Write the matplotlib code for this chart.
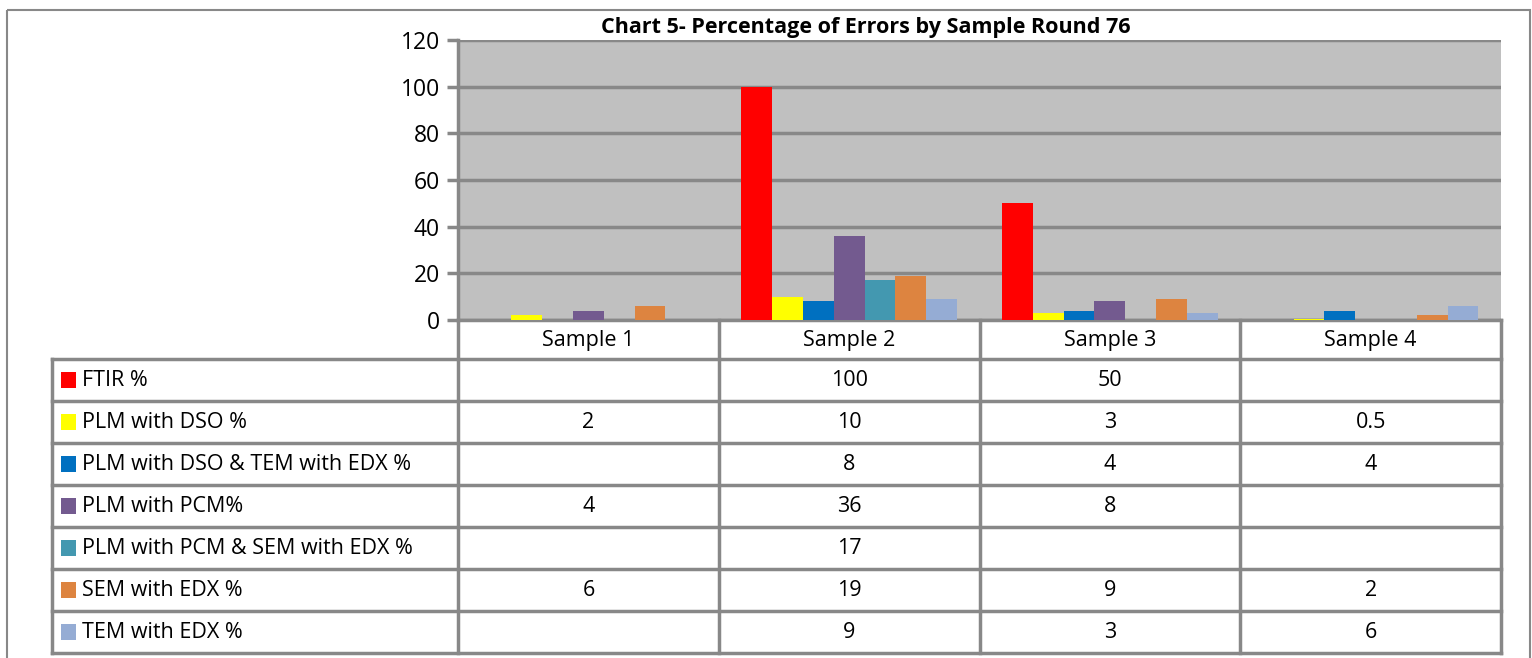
import numpy as np
import matplotlib
matplotlib.use("Agg")
import matplotlib.pyplot as plt
from matplotlib.patches import Rectangle

# data
samples = ["Sample 1", "Sample 2", "Sample 3", "Sample 4"]
series_names = [
    "FTIR %",
    "PLM with DSO %",
    "PLM with DSO & TEM with EDX %",
    "PLM with PCM%",
    "PLM with PCM & SEM with EDX %",
    "SEM with EDX %",
    "TEM with EDX %",
]
ftir = [None, 100, 50, None]
plm_dso = [2, 10, 3, 0.5]
plm_dso_tem = [None, 8, 4, 4]
plm_pcm = [4, 36, 8, None]
plm_pcm_sem = [None, 17, None, None]
sem_edx = [6, 19, 9, 2]
tem_edx = [None, 9, 3, 6]
series_values = [ftir, plm_dso, plm_dso_tem, plm_pcm, plm_pcm_sem, sem_edx, tem_edx]
colors = ["#FF0000", "#FFFF00", "#0070C0", "#735A8F", "#4398B0", "#DD8440", "#95ACD4"]
y_ticks = [0, 20, 40, 60, 80, 100, 120]

plt.rcParams['font.family'] = ['Open Sans', 'DejaVu Sans']
GRID = "#888888"
W, H = 1532, 658
FS = 15.5

fig = plt.figure(figsize=(W / 100, H / 100), dpi=100, facecolor="white")

# plot area in pixel coords
px_l, px_r, px_t, px_b = 458, 1501, 40, 320
ax = fig.add_axes([px_l / W, 1 - px_b / H, (px_r - px_l) / W, (px_b - px_t) / H])
ax.set_facecolor("#C0C0C0")

bar_w = 0.118
n = len(series_values)
x = np.arange(len(samples))
for i, (vals, c) in enumerate(zip(series_values, colors)):
    v = np.array([np.nan if a is None else a for a in vals], dtype=float)
    ax.bar(x + (i - (n - 1) / 2) * bar_w, v, bar_w, color=c, zorder=3)

ax.set_xlim(-0.5, len(samples) - 0.5)
ax.set_ylim(0, 120)
ax.set_yticks(y_ticks)
ax.set_xticks([])
ax.yaxis.grid(True, color=GRID, linewidth=2.5, zorder=1)
ax.set_axisbelow(True)
for s in ["top", "right"]:
    ax.spines[s].set_visible(False)
for s in ["left", "bottom"]:
    ax.spines[s].set_color(GRID)
    ax.spines[s].set_linewidth(2.5)
ax.tick_params(axis="y", length=8, width=2.5, color=GRID, labelsize=16.5, pad=5)

# overlay for table, title and border
ov = fig.add_axes([0, 0, 1, 1], facecolor="none")
ov.set_xlim(0, W)
ov.set_ylim(H, 0)
ov.axis("off")

ov.text(866, 27, "Chart 5- Percentage of Errors by Sample Round 76",
        ha="center", va="center", fontsize=15.5, fontweight="bold")

# outer border
ov.add_patch(Rectangle((7, 10), 1523, 660, fill=False, edgecolor=GRID, linewidth=1.5))

col_x = [px_l + (px_r - px_l) * k / len(samples) for k in range(len(samples) + 1)]
label_left = 52
row_top = 359
row_h = 42
n_rows = len(series_names)
bottom = row_top + row_h * n_rows
lw = 2.5

for cx in col_x:
    ov.plot([cx, cx], [px_b, bottom], color=GRID, lw=lw, solid_capstyle="projecting")
ov.plot([label_left, label_left], [row_top, bottom], color=GRID, lw=lw, solid_capstyle="projecting")
for r in range(n_rows + 1):
    y = row_top + r * row_h
    ov.plot([label_left, px_r], [y, y], color=GRID, lw=lw, solid_capstyle="projecting")

for k, name in enumerate(samples):
    ov.text((col_x[k] + col_x[k + 1]) / 2, (px_b + row_top) / 2 + 1, name,
            ha="center", va="center", fontsize=FS)

for r, (name, vals, c) in enumerate(zip(series_names, series_values, colors)):
    yc = row_top + r * row_h + row_h / 2
    ov.add_patch(Rectangle((61, yc - 8), 15, 16, color=c, linewidth=0))
    ov.text(82, yc + 1, name, ha="left", va="center", fontsize=FS)
    for k, v in enumerate(vals):
        if v is None:
            continue
        ov.text((col_x[k] + col_x[k + 1]) / 2, yc + 1, f"{v:g}",
                ha="center", va="center", fontsize=FS)

fig.savefig("out.png", dpi=100, facecolor="white")
